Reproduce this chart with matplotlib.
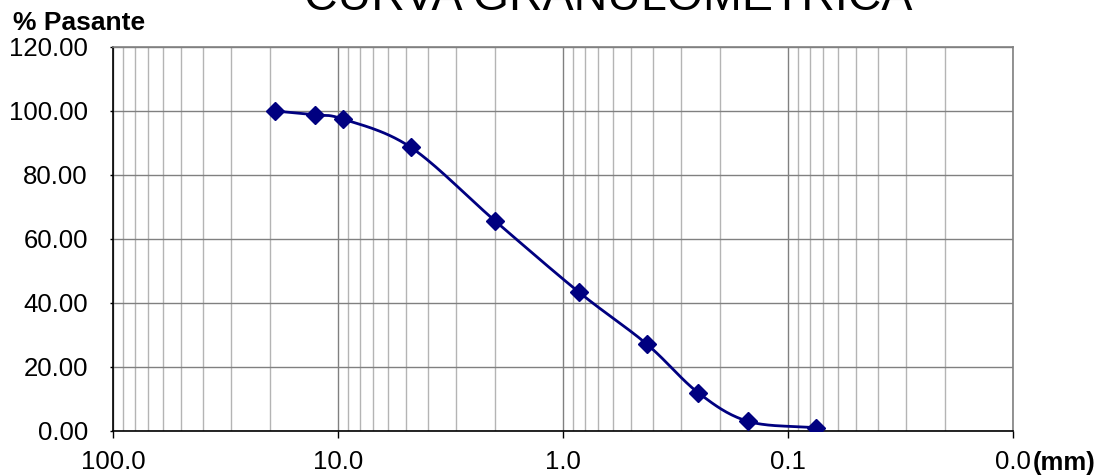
import numpy as np
import matplotlib.pyplot as plt
from matplotlib.ticker import FixedLocator, LogLocator, NullFormatter

# sieve openings (mm) and percent passing
abertura = [19.05, 12.7, 9.525, 4.76, 2.0, 0.85, 0.425, 0.25, 0.15, 0.075]
pasante = [100.0, 98.8, 97.5, 88.7, 65.6, 43.4, 27.2, 11.9, 3.0, 1.0]

x_ticks = [100, 10, 1, 0.1, 0.01]
x_labels = ['100.0', '10.0', '1.0', '0.1', '0.0']
y_ticks = [0, 20, 40, 60, 80, 100, 120]

plt.rcParams['font.family'] = ['Liberation Sans', 'DejaVu Sans']


def smooth(x, y, n=30):
    # catmull-rom through the points in log-x space (like excel smoothed line)
    lx = np.log10(x)
    y = np.asarray(y, dtype=float)
    px = np.concatenate([[2 * lx[0] - lx[1]], lx, [2 * lx[-1] - lx[-2]]])
    py = np.concatenate([[2 * y[0] - y[1]], y, [2 * y[-1] - y[-2]]])
    ox, oy = [], []
    t = np.linspace(0, 1, n)
    for i in range(1, len(px) - 2):
        p0, p1, p2, p3 = px[i - 1:i + 3]
        q0, q1, q2, q3 = py[i - 1:i + 3]
        cx = 0.5 * ((2 * p1) + (-p0 + p2) * t + (2 * p0 - 5 * p1 + 4 * p2 - p3) * t ** 2 + (-p0 + 3 * p1 - 3 * p2 + p3) * t ** 3)
        cy = 0.5 * ((2 * q1) + (-q0 + q2) * t + (2 * q0 - 5 * q1 + 4 * q2 - q3) * t ** 2 + (-q0 + 3 * q1 - 3 * q2 + q3) * t ** 3)
        ox.extend(cx)
        oy.extend(cy)
    return 10 ** np.array(ox), np.array(oy)


fig = plt.figure(figsize=(11.07, 4.76), dpi=100)
ax = fig.add_axes([113 / 1107, 1 - 431 / 476, (1013 - 113) / 1107, (431 - 47) / 476])

sx, sy = smooth(abertura, pasante)
ax.plot(sx, sy, color='#000080', lw=2.0, zorder=3)
ax.plot(abertura, pasante, linestyle='none', marker='D', markersize=9,
        color='#000080', zorder=4)

ax.set_xscale('log')
ax.set_xlim(100, 0.01)
ax.set_ylim(0, 120)

ax.xaxis.set_major_locator(FixedLocator(x_ticks))
ax.set_xticklabels(x_labels)
ax.xaxis.set_minor_locator(LogLocator(base=10, subs=np.arange(2, 10)))
ax.xaxis.set_minor_formatter(NullFormatter())
ax.set_yticks(y_ticks)
ax.set_yticklabels([f'{v:.2f}' for v in y_ticks])

ax.grid(which='major', axis='both', color='#808080', lw=1.0)
ax.grid(which='minor', axis='x', color='#b4b4b4', lw=1.0)
ax.set_axisbelow(True)

ax.tick_params(axis='x', which='major', direction='out', length=5, width=1,
               labelsize=18.5, pad=9, color='black')
ax.tick_params(axis='x', which='minor', length=0)
ax.tick_params(axis='y', direction='out', length=2, width=1, labelsize=18.5,
               pad=16)

for s in ['left', 'bottom']:
    ax.spines[s].set_color('black')
    ax.spines[s].set_linewidth(1.2)
for s in ['top', 'right']:
    ax.spines[s].set_color('#808080')
    ax.spines[s].set_linewidth(1.2)

fig.text(608 / 1107, 1 - 10 / 476, 'CURVA GRANULOMETRICA', fontsize=33.5,
         ha='center', va='baseline')
fig.text(13 / 1107, 1 - 30 / 476, '% Pasante', fontsize=19,
         fontweight='bold', ha='left', va='baseline')
fig.text(1033 / 1107, 1 - 470 / 476, '(mm)', fontsize=18.5,
         fontweight='bold', ha='left', va='baseline')

fig.savefig('out.png', dpi=100)
